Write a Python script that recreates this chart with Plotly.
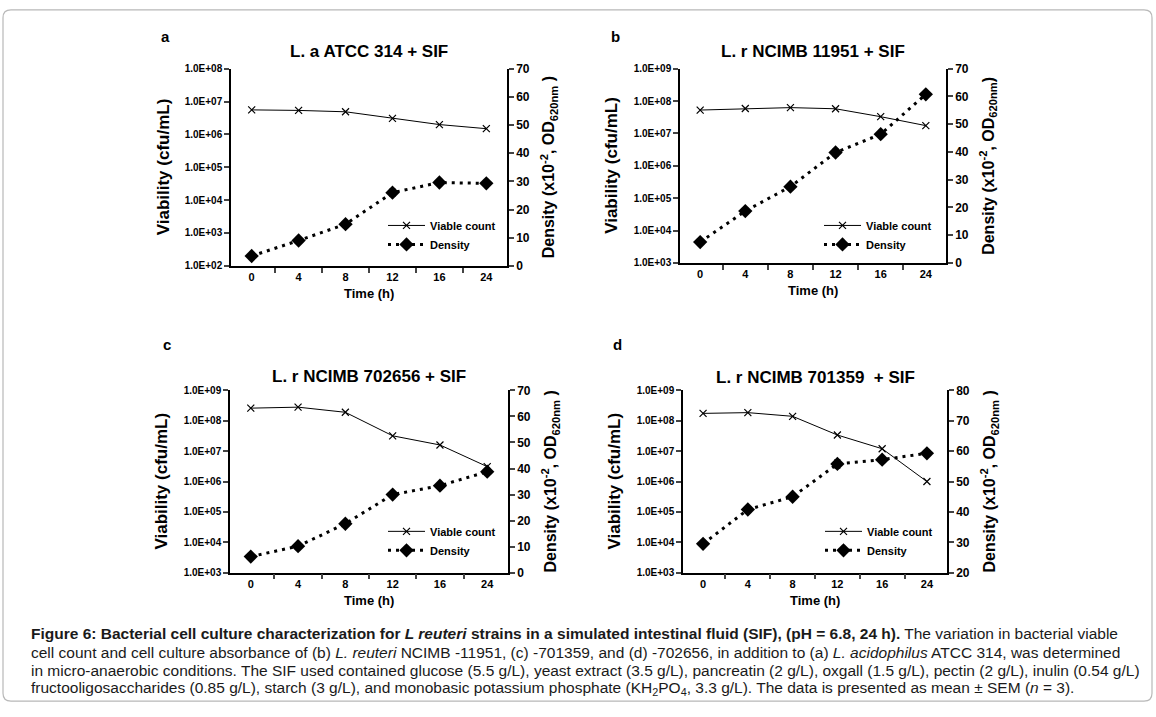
import plotly.graph_objects as go

# ---------------- data ----------------
time_labels = ["0", "4", "8", "12", "16", "24"]

viable_a = [5.6e6, 5.4e6, 4.9e6, 3.1e6, 2.0e6, 1.5e6]
density_a = [3.5, 9.0, 14.8, 26.0, 29.6, 29.3]
sem_a = [0.4, 0.5, 0.6, 1.3, 0.6, 0.5]

viable_b = [5.3e7, 5.9e7, 6.3e7, 5.8e7, 3.3e7, 1.75e7]
density_b = [7.5, 18.7, 27.5, 39.8, 46.4, 60.8]
sem_b = [0.5, 0.6, 0.8, 1.3, 0.8, 0.6]

viable_c = [2.6e8, 2.8e8, 1.9e8, 3.2e7, 1.6e7, 3.1e6]
density_c = [6.2, 10.2, 18.8, 30.0, 33.4, 38.8]
sem_c = [0.5, 0.5, 0.8, 1.0, 0.8, 0.8]

viable_d = [1.75e8, 1.85e8, 1.4e8, 3.4e7, 1.2e7, 1.0e6]
density_d = [29.5, 40.8, 45.0, 55.8, 57.2, 59.3]
sem_d = [0.4, 0.5, 0.6, 1.4, 0.6, 0.5]

panel_letters = ["a", "b", "c", "d"]
panel_titles = ["L. a ATCC 314 + SIF", "L. r NCIMB 11951 + SIF",
                "L. r NCIMB 702656 + SIF", "L. r NCIMB 701359  + SIF"]
log_exp_ranges = [(2, 8), (3, 9), (3, 9), (3, 9)]
density_ranges = [(0, 70), (0, 70), (0, 70), (20, 80)]
right_titles = ["Density (x10<sup>-2</sup>, OD<sub>620nm</sub> )",
                "Density (x10<sup>-2</sup>, OD<sub>620nm</sub>)",
                "Density (x10<sup>-2</sup>, OD<sub>620nm</sub> )",
                "Density (x10<sup>-2</sup>, OD<sub>620nm</sub> )"]
viables = [viable_a, viable_b, viable_c, viable_d]
densities = [density_a, density_b, density_c, density_d]
sems = [sem_a, sem_b, sem_c, sem_d]

caption_lines = [
    "<b>Figure 6: Bacterial cell culture characterization for <i>L reuteri</i> strains in a simulated intestinal fluid (SIF), (pH = 6.8, 24 h).</b> The variation in bacterial viable",
    "cell count and cell culture absorbance of (b) <i>L. reuteri</i> NCIMB -11951, (c) -701359, and (d) -702656, in addition to (a) <i>L. acidophilus</i> ATCC 314, was determined",
    "in micro-anaerobic conditions. The SIF used contained glucose (5.5 g/L), yeast extract (3.5 g/L), pancreatin (2 g/L), oxgall (1.5 g/L), pectin (2 g/L), inulin (0.54 g/L)",
    "fructooligosaccharides (0.85 g/L), starch (3 g/L), and monobasic potassium phosphate (KH<sub>2</sub>PO<sub>4</sub>, 3.3 g/L). The data is presented as mean ± SEM (<i>n</i> = 3).",
]

# ---------------- layout geometry (pixels) ----------------
W, H = 1156, 717
def px(x):
    return x / W
def py(y):
    return 1 - y / H

boxes = [(231, 507, 63, 264), (680, 946, 63, 261),
         (230, 508, 391, 577), (683, 947, 391, 577)]
legend_pos = [(383, 208), (819, 208), (383, 520), (820, 520)]
letter_pos = [(165, 30), (615, 30), (167, 344), (617, 344)]
title_y = [45, 45, 377, 378]

FONT = "Liberation Sans, Arial, sans-serif"
fig = go.Figure()
layout = dict(
    width=W, height=H, margin=dict(l=0, r=0, t=0, b=0),
    paper_bgcolor="white", plot_bgcolor="white",
    font=dict(family=FONT, color="black", weight="bold"),
    showlegend=True,
)
annotations = []

for i in range(4):
    n = i + 1
    xname = "xaxis" if n == 1 else f"xaxis{n}"
    xref = "x" if n == 1 else f"x{n}"
    yl, yr = 2 * i + 1, 2 * i + 2
    ylname = "yaxis" if yl == 1 else f"yaxis{yl}"
    ylref = "y" if yl == 1 else f"y{yl}"
    yrname = f"yaxis{yr}"
    yrref = f"y{yr}"
    lgname = "legend" if n == 1 else f"legend{n}"
    x0, x1, y0, y1 = boxes[i]
    e0, e1 = log_exp_ranges[i]

    fig.add_trace(go.Scatter(
        x=time_labels, y=viables[i], xaxis=xref, yaxis=ylref,
        mode="lines+markers", name="Viable count", legend=lgname,
        line=dict(color="black", width=1),
        marker=dict(symbol="x-thin", size=7, line=dict(color="black", width=1.2)),
        cliponaxis=False,
    ))
    fig.add_trace(go.Scatter(
        x=time_labels, y=densities[i], xaxis=xref, yaxis=yrref,
        mode="lines+markers", name="Density", legend=lgname,
        line=dict(color="black", width=3, dash="3px,5px"),
        marker=dict(symbol="diamond", size=11, color="black"),
        error_y=dict(type="data", array=sems[i], color="black", thickness=1, width=3),
        cliponaxis=False,
    ))

    layout[xname] = dict(
        domain=[px(x0), px(x1)], anchor=ylref, type="category",
        tickson="boundaries", ticks="outside", ticklen=5, tickwidth=1.5,
        showline=True, linecolor="black", linewidth=1.5, showgrid=False,
        tickfont=dict(size=11), zeroline=False,
    )
    tv = [10 ** e for e in range(e0, e1 + 1)]
    tt = [f"1.0E+{e:02d}" for e in range(e0, e1 + 1)]
    layout[ylname] = dict(
        domain=[py(y1), py(y0)], anchor=xref, type="log", range=[e0, e1],
        tickvals=tv, ticktext=tt, ticks="outside", ticklen=5, tickwidth=1.5,
        showline=True, linecolor="black", linewidth=1.5, showgrid=False,
        tickfont=dict(size=10), zeroline=False,
    )
    d0, d1 = density_ranges[i]
    layout[yrname] = dict(
        overlaying=ylref, side="right", anchor=xref, range=[d0, d1], dtick=10,
        ticks="outside", ticklen=5, tickwidth=1.5,
        showline=True, linecolor="black", linewidth=1.5, showgrid=False,
        tickfont=dict(size=12), zeroline=False,
    )
    lx, ly = legend_pos[i]
    layout[lgname] = dict(
        x=px(lx), y=py(ly), xanchor="left", yanchor="top",
        bgcolor="rgba(0,0,0,0)", font=dict(size=11, family=FONT, weight="bold"),
        tracegroupgap=0, itemwidth=37,
    )

    cx = (x0 + x1) / 2
    annotations += [
        dict(text=panel_titles[i], x=px(cx), y=py(title_y[i]), xref="paper", yref="paper",
             showarrow=False, xanchor="center", yanchor="middle",
             font=dict(size=17, family=FONT, weight="bold")),
        dict(text=panel_letters[i], x=px(letter_pos[i][0]), y=py(letter_pos[i][1]),
             xref="paper", yref="paper", showarrow=False, xanchor="center", yanchor="middle",
             font=dict(size=15, family=FONT, weight="bold")),
        dict(text="Viability (cfu/mL)", x=px(x0 - 68), y=py((y0 + y1) / 2),
             xref="paper", yref="paper", showarrow=False, textangle=-90,
             xanchor="center", yanchor="middle", font=dict(size=17, family=FONT, weight="bold")),
        dict(text=right_titles[i], x=px(x1 + 42), y=py((y0 + y1) / 2),
             xref="paper", yref="paper", showarrow=False, textangle=-90,
             xanchor="center", yanchor="middle", font=dict(size=16, family=FONT, weight="bold")),
        dict(text="Time (h)", x=px(cx), y=py(y1 + 28), xref="paper", yref="paper",
             showarrow=False, xanchor="center", yanchor="middle",
             font=dict(size=13, family=FONT, weight="bold")),
    ]

cap_y = [639, 658, 677, 695]
for line, yy in zip(caption_lines, cap_y):
    annotations.append(dict(
        text=line, x=px(29), y=py(yy), xref="paper", yref="paper", showarrow=False,
        xanchor="left", yanchor="middle",
        font=dict(size=15.5, family=FONT, weight="normal", color="#1a1a1a")))

layout["annotations"] = annotations

# rounded frame around the whole figure
r = 8
fx0, fx1, fy0, fy1 = 3, 1152, 3, 708
path = (f"M {px(fx0 + r)},{py(fy0)} L {px(fx1 - r)},{py(fy0)} "
        f"Q {px(fx1)},{py(fy0)} {px(fx1)},{py(fy0 + r)} "
        f"L {px(fx1)},{py(fy1 - r)} Q {px(fx1)},{py(fy1)} {px(fx1 - r)},{py(fy1)} "
        f"L {px(fx0 + r)},{py(fy1)} Q {px(fx0)},{py(fy1)} {px(fx0)},{py(fy1 - r)} "
        f"L {px(fx0)},{py(fy0 + r)} Q {px(fx0)},{py(fy0)} {px(fx0 + r)},{py(fy0)} Z")
layout["shapes"] = [dict(type="path", path=path, xref="paper", yref="paper",
                         line=dict(color="#b8b8b8", width=1.2))]

fig.update_layout(**layout)
fig.write_html(
    "out.html",
    config={"displayModeBar": False},
    post_script="document.body.style.margin='0';document.body.style.padding='0';"
                "document.documentElement.style.overflow='hidden';",
)
